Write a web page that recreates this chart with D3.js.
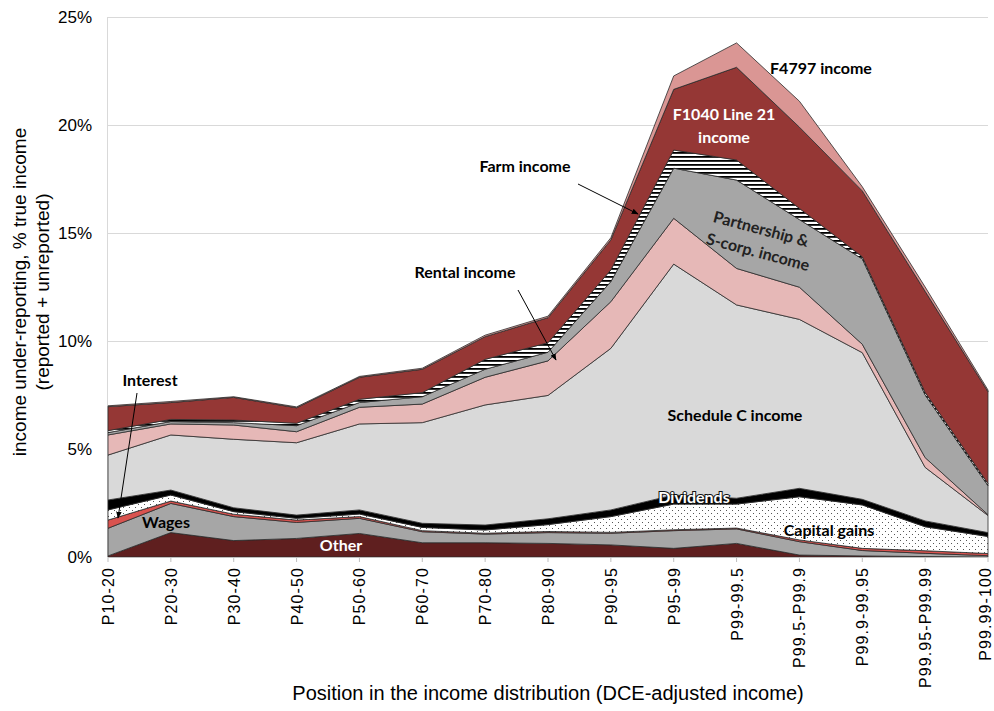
<!DOCTYPE html>
<html>
<head>
<meta charset="utf-8">
<script src="https://cdn.jsdelivr.net/npm/d3@7"></script>
<style>
  html, body { margin: 0; padding: 0; background: #fff; }
  svg { display: block; }
</style>
</head>
<body>
<svg id="chart" width="994" height="711"></svg>
<script>
// ---------- DATA (percent of true income) ----------
const categories = ["P10-20","P20-30","P30-40","P40-50","P50-60","P60-70","P70-80","P80-90",
  "P90-95","P95-99","P99-99.5","P99.5-P99.9","P99.9-99.95","P99.95-P99.99","P99.99-100"];

const other        = [0.05,1.13,0.76,0.86,1.09,0.66,0.66,0.63,0.56,0.40,0.63,0.09,0.05,0.02,0.00];
const wages        = [1.28,1.35,1.11,0.74,0.70,0.51,0.40,0.50,0.54,0.82,0.67,0.62,0.25,0.15,0.06];
const interest     = [0.38,0.11,0.11,0.11,0.08,0.05,0.04,0.05,0.04,0.04,0.04,0.08,0.10,0.12,0.10];
const capitalGains = [0.47,0.28,0.12,0.08,0.12,0.15,0.15,0.32,0.73,1.19,1.11,2.00,2.01,1.11,0.79];
const dividends    = [0.46,0.23,0.18,0.15,0.19,0.19,0.23,0.27,0.31,0.42,0.27,0.39,0.26,0.27,0.18];
const scheduleC    = [2.08,2.55,3.17,3.35,3.98,4.66,5.56,5.71,7.48,10.69,8.95,7.82,6.79,2.48,0.79];
const rental       = [0.93,0.51,0.66,0.51,0.77,0.86,1.28,1.60,2.16,2.12,1.69,1.49,0.39,0.45,0.04];
const partnership  = [0.11,0.11,0.11,0.28,0.22,0.34,0.37,0.40,0.93,2.32,4.09,3.13,3.95,2.90,1.34];
const farm         = [0.09,0.10,0.12,0.11,0.15,0.19,0.46,0.44,0.54,0.84,0.93,0.52,0.10,0.12,0.10];
const f1040Line21  = [1.11,0.78,1.05,0.72,1.02,1.08,1.05,1.16,1.39,2.81,4.29,3.76,3.05,4.68,4.25];
const f4797        = [0.04,0.05,0.03,0.04,0.04,0.05,0.07,0.07,0.10,0.62,1.13,1.20,0.19,0.20,0.08];

const seriesNames = ["Other","Wages","Interest","Capital gains","Dividends","Schedule C income",
  "Rental income","Partnership & S-corp. income","Farm income","F1040 Line 21 income","F4797 income"];
const seriesValues = [other,wages,interest,capitalGains,dividends,scheduleC,rental,partnership,farm,f1040Line21,f4797];
const yTicks = [0,5,10,15,20,25];

// ---------- LAYOUT ----------
const svg = d3.select("#chart");
const x0 = 108, x1 = 988, yTop = 17, yBottom = 557;

const x = d3.scalePoint().domain(categories).range([x0, x1]).padding(0);
const y = d3.scaleLinear().domain([0, 25]).range([yBottom, yTop]);

const fills = ["#5f1f1f","#a6a6a6","#d9534f","url(#dots)","#000000","#d9d9d9",
  "#e6b8b7","#a6a6a6","url(#hatch)","#953735","#da9694"];

// patterns
const defs = svg.append("defs");
const dots = defs.append("pattern").attr("id","dots").attr("patternUnits","userSpaceOnUse")
  .attr("width",6).attr("height",6);
dots.append("rect").attr("width",6).attr("height",6).attr("fill","#fff");
dots.append("rect").attr("x",0).attr("y",0).attr("width",1).attr("height",1).attr("fill","#555");
dots.append("rect").attr("x",3).attr("y",3).attr("width",1).attr("height",1).attr("fill","#555");

const hatch = defs.append("pattern").attr("id","hatch").attr("patternUnits","userSpaceOnUse")
  .attr("width",8).attr("height",4);
hatch.append("rect").attr("width",8).attr("height",4).attr("fill","#fff");
hatch.append("rect").attr("y",0).attr("width",8).attr("height",1.8).attr("fill","#000");

const arrow = defs.append("marker").attr("id","arrow").attr("viewBox","0 0 10 10")
  .attr("refX",9).attr("refY",5).attr("markerWidth",7).attr("markerHeight",7)
  .attr("orient","auto-start-reverse");
arrow.append("path").attr("d","M0,1 L10,5 L0,9 z").attr("fill","#000");

// gridlines
svg.append("g").selectAll("line").data(yTicks.filter(d => d > 0)).join("line")
  .attr("x1", x0).attr("x2", x1).attr("y1", d => y(d)).attr("y2", d => y(d))
  .attr("stroke","#d9d9d9").attr("stroke-width",1).attr("shape-rendering","crispEdges");
svg.append("line").attr("x1",x0-0.5).attr("x2",x0-0.5).attr("y1",y(25)).attr("y2",yBottom)
  .attr("stroke","#d9d9d9").attr("stroke-width",1);

// stacked areas
const rows = categories.map((c,i) => {
  const r = {cat:c};
  seriesNames.forEach((n,k) => r[n] = seriesValues[k][i]);
  return r;
});
const stack = d3.stack().keys(seriesNames);
const layers = stack(rows);
const area = d3.area()
  .x(d => x(d.data.cat))
  .y0(d => y(d[0]))
  .y1(d => y(d[1]));

svg.append("g").selectAll("path").data(layers).join("path")
  .attr("d", area)
  .attr("fill", (d,i) => fills[i])
  .attr("stroke", "#2b2b2b")
  .attr("stroke-width", 0.8)
  .attr("stroke-linejoin","round");

// x axis
const xAxis = svg.append("g").attr("transform",`translate(0,${yBottom})`);
xAxis.append("line").attr("x1",x0).attr("x2",x1).attr("y1",0.5).attr("y2",0.5)
  .attr("stroke","#bfbfbf");
xAxis.selectAll("line.tick").data(categories).join("line").attr("class","tick")
  .attr("x1", d => x(d)).attr("x2", d => x(d)).attr("y1",0).attr("y2",5)
  .attr("stroke","#bfbfbf");
xAxis.selectAll("text").data(categories).join("text")
  .attr("transform", (d,i) => `translate(${x(d)+ (i === categories.length-1 ? 3 : 6)},${10}) rotate(-90)`)
  .attr("text-anchor","end")
  .attr("font-family","'Liberation Sans', Arial, sans-serif")
  .attr("font-size",16).attr("letter-spacing",1.1).attr("fill","#000")
  .text(d => d);

// y axis labels
svg.append("g").selectAll("text").data(yTicks).join("text")
  .attr("x", 92).attr("y", d => y(d)).attr("dy","0.35em")
  .attr("text-anchor","end")
  .attr("font-family","'Liberation Sans', Arial, sans-serif")
  .attr("font-size",17).attr("fill","#000")
  .text(d => d + "%");

// axis titles
const yTitle = svg.append("text")
  .attr("transform","translate(20,292) rotate(-90)")
  .attr("text-anchor","middle")
  .attr("font-family","'Liberation Sans', Arial, sans-serif")
  .attr("font-size",19).attr("fill","#000");
yTitle.append("tspan").attr("x",0).attr("y",6).text("income under-reporting, % true income");
yTitle.append("tspan").attr("x",0).attr("y",29).text("(reported + unreported)");

svg.append("text").attr("x",548).attr("y",700).attr("text-anchor","middle")
  .attr("font-family","'Liberation Sans', Arial, sans-serif")
  .attr("font-size",20).attr("fill","#000")
  .text("Position in the income distribution (DCE-adjusted income)");

// annotations
const lab = (txt, cx, cy, color, opts={}) => {
  const t = svg.append("text").attr("x",cx).attr("y",cy).attr("dy","0.35em")
    .attr("text-anchor", opts.anchor || "middle")
    .attr("font-family","Lato, 'Open Sans', sans-serif")
    .attr("font-weight","bold").attr("font-size", opts.size || 16)
    .attr("fill", color).text(txt);
  if (opts.rotate) t.attr("transform",`rotate(${opts.rotate},${cx},${cy})`);
  if (opts.stroke) t.attr("stroke",opts.stroke).attr("stroke-width",2).attr("paint-order","stroke");
  return t;
};
lab("F4797 income", 821, 68, "#000");
lab("F1040 Line 21", 724, 114, "#fff");
lab("income", 724, 137, "#fff");
lab("Farm income", 525, 166, "#000");
lab("Partnership &", 761, 229, "#222", {rotate:15});
lab("S-corp. income", 758, 252, "#222", {rotate:15});
lab("Rental income", 465, 272, "#000");
lab("Interest", 150, 380, "#000");
lab("Wages", 166, 522, "#000");
lab("Other", 341, 545, "#fff");
lab("Schedule C income", 735, 415, "#000");
lab("Dividends", 694, 497, "#fff", {stroke:"#111"});
lab("Capital gains", 829, 530, "#000");

// arrows
const arrows = [
  [578,184,638,214],
  [518,290,556,360],
  [137,393,118,518]
];
svg.append("g").selectAll("line").data(arrows).join("line")
  .attr("x1",d=>d[0]).attr("y1",d=>d[1]).attr("x2",d=>d[2]).attr("y2",d=>d[3])
  .attr("stroke","#000").attr("stroke-width",1)
  .attr("marker-end","url(#arrow)");
</script>
</body>
</html>
